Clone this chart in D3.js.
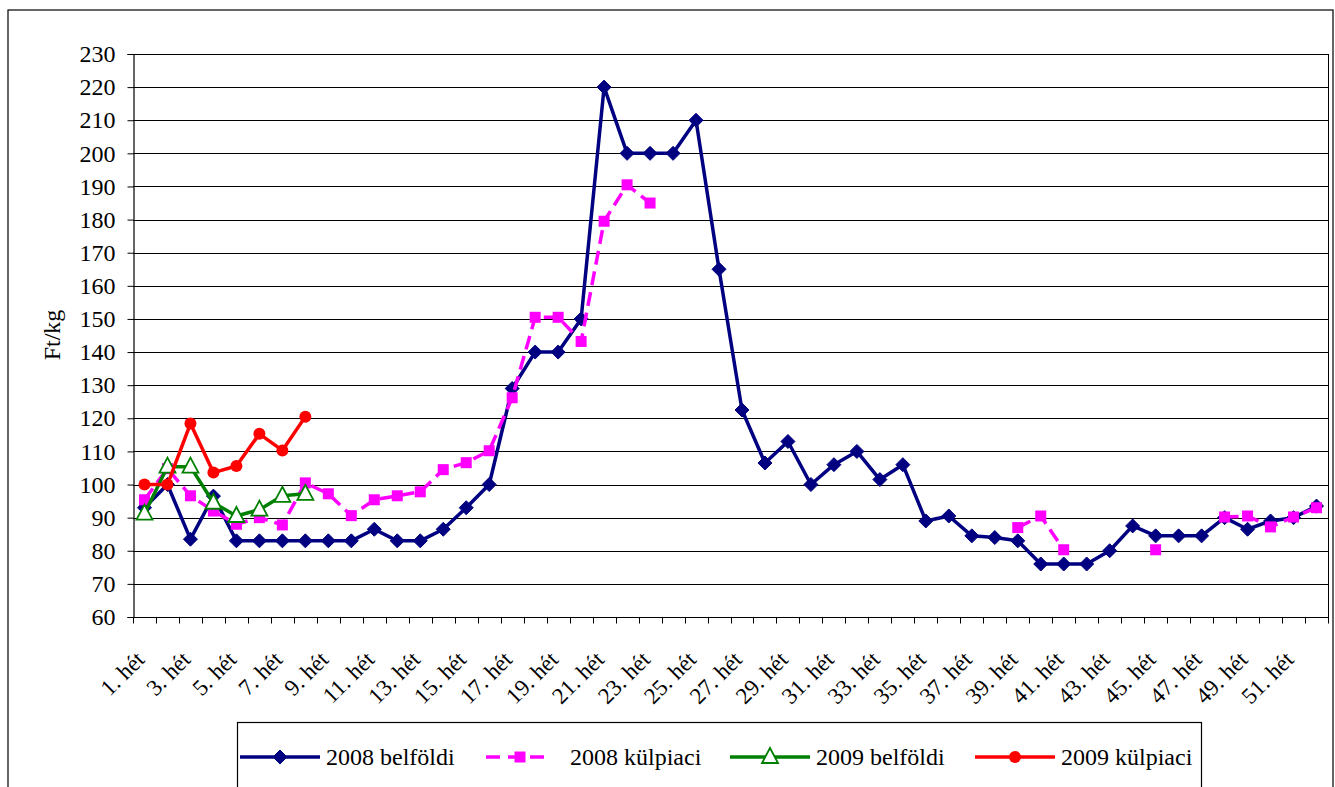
<!DOCTYPE html>
<html>
<head>
<meta charset="utf-8">
<script src="https://cdn.jsdelivr.net/npm/d3@7"></script>
<style>
  body { margin: 0; background: #fff; }
  svg { display: block; font-family: "Liberation Serif", "Times New Roman", serif; }
</style>
</head>
<body>
<svg id="svg0"></svg>
<script>
// ----- data -----
let weeks = d3.range(1, 53).map(i => i + ". hét");
let weekLabels = weeks.filter((d, i) => i % 2 === 0 && i < 51);
let yTicks = d3.range(60, 231, 10);

let belfoldi2008 = [93, 100, 83.5, 96.5, 83, 83, 83, 83, 83, 83,
    86.5, 83, 83, 86.5, 93, 100, 129, 140, 140, 150,
    220, 200, 200, 200, 210, 165, 122.5, 106.5, 113, 100,
    106, 110, 101.5, 106, 89, 90.5, 84.5, 84, 83, 76,
    76, 76, 80, 87.5, 84.5, 84.5, 84.5, 90, 86.5, 89,
    90, 93.5];
let kulpiaci2008 = [95.4, 104.8, 96.6, 92, 88, 90, 87.8, 100.5, 97.2, 90.6,
    95.4, 96.6, 97.8, 104.5, 106.6, 110.2, 126.2, 150.5, 150.5, 143.2,
    179.5, 190.5, 185, null, null, null, null, null, null, null,
    null, null, null, null, null, null, null, null, 87, 90.5,
    80.3, null, null, null, 80.3, null, null, 90.2, 90.5, 87.2,
    90.2, 93];
let belfoldi2009 = [91.2, 105.4, 105.4, 94.5, 90.5, 92.4, 96.6, 97.2];
let kulpiaci2009 = [100, 100, 118.4, 103.6, 105.6, 115.3, 110.3, 120.5];

let seriesNames = ["2008 belföldi", "2008 külpiaci", "2009 belföldi", "2009 külpiaci"];
let seriesColors = ["#000080", "#ff00ff", "#008000", "#ff0000"];

// ----- chart -----
let svgWidth = 1335;
let svgHeight = 787;
let plot = { left: 133, right: 1328, top: 54, bottom: 617 };

let svg = d3.select("#svg0")
    .attr("width", svgWidth)
    .attr("height", svgHeight);

// outer frame
svg.append("rect")
    .attr("x", 8).attr("y", 10)
    .attr("width", 1325).attr("height", 800)
    .attr("fill", "none").attr("stroke", "#000").attr("stroke-width", 1.2);

let x = d3.scaleBand()
    .domain(weeks)
    .range([plot.left, plot.right]);

let y = d3.scaleLinear()
    .domain([60, 230])
    .range([plot.bottom, plot.top]);

let cx = d => x(d) + x.bandwidth() / 2;

// gridlines
svg.append("g")
    .selectAll("line")
    .data(yTicks)
    .enter()
    .append("line")
    .attr("x1", plot.left).attr("x2", plot.right)
    .attr("y1", d => Math.round(y(d)) + 0.5)
    .attr("y2", d => Math.round(y(d)) + 0.5)
    .attr("stroke", "#000").attr("stroke-width", 1);

// right border of plot area
svg.append("line")
    .attr("x1", plot.right + 0.5).attr("x2", plot.right + 0.5)
    .attr("y1", plot.top).attr("y2", plot.bottom)
    .attr("stroke", "#000");

// y axis
let axisY = d3.axisLeft(y).tickValues(yTicks).tickSize(6).tickPadding(12);
let groupY = svg.append("g")
    .attr("transform", `translate(${plot.left + 0.5}, 0)`)
    .call(axisY);
groupY.select(".domain").attr("stroke", "#000").attr("stroke-width", 1.2);
groupY.selectAll(".tick line").attr("stroke", "#000");
groupY.selectAll("text")
    .attr("fill", "#000")
    .style("font-family", "Liberation Serif")
    .style("font-size", "24px");

// y title
svg.append("text")
    .attr("transform", "translate(60, 335) rotate(-90)")
    .attr("text-anchor", "middle")
    .style("font-size", "24px")
    .text("Ft/kg");

// x axis
let groupX = svg.append("g")
    .attr("transform", `translate(0, ${plot.bottom + 0.5})`);
groupX.append("line")
    .attr("x1", plot.left).attr("x2", plot.right + 1)
    .attr("stroke", "#000").attr("stroke-width", 1.2);
groupX.selectAll(".xt")
    .data(weeks.concat(["end"]))
    .enter()
    .append("line")
    .attr("class", "xt")
    .attr("x1", d => Math.round(d === "end" ? plot.right : x(d)) + 0.5)
    .attr("x2", d => Math.round(d === "end" ? plot.right : x(d)) + 0.5)
    .attr("y1", 0).attr("y2", 6)
    .attr("stroke", "#000");
groupX.selectAll(".xl")
    .data(weekLabels)
    .enter()
    .append("text")
    .attr("class", "xl")
    .attr("transform", d => `translate(${cx(d) - 10}, 32) rotate(-45)`)
    .attr("text-anchor", "end")
    .attr("dy", "0.7em")
    .style("font-size", "23px")
    .text(d => d);

// markers
function drawMarker(sel, type, color) {
    if (type === "diamond") {
        sel.append("path")
            .attr("d", "M0,-7 L7,0 L0,7 L-7,0 Z")
            .attr("fill", color).attr("stroke", color);
    } else if (type === "square") {
        sel.append("rect")
            .attr("x", -5.5).attr("y", -5.5)
            .attr("width", 11).attr("height", 11)
            .attr("fill", color);
    } else if (type === "triangle") {
        sel.append("path")
            .attr("d", "M0,-9 L8,6 L-8,6 Z")
            .attr("fill", "#fff").attr("stroke", color).attr("stroke-width", 1.8);
    } else {
        sel.append("circle")
            .attr("r", 6)
            .attr("fill", color);
    }
}

let seriesList = [
    { values: belfoldi2008, color: seriesColors[0], marker: "diamond", dash: null, width: 3.5 },
    { values: kulpiaci2008, color: seriesColors[1], marker: "square", dash: "14,7", width: 3.5 },
    { values: belfoldi2009, color: seriesColors[2], marker: "triangle", dash: null, width: 3.5 },
    { values: kulpiaci2009, color: seriesColors[3], marker: "circle", dash: null, width: 3.5 }
];

let line = d3.line()
    .defined(d => d.v !== null)
    .x(d => cx(d.w))
    .y(d => y(d.v));

seriesList.forEach(s => {
    let pts = s.values.map((v, i) => ({ w: weeks[i], v: v }));
    let g = svg.append("g");
    g.append("path")
        .datum(pts)
        .attr("d", line)
        .attr("fill", "none")
        .attr("stroke", s.color)
        .attr("stroke-width", s.width)
        .attr("stroke-linejoin", "round")
        .attr("stroke-dasharray", s.dash);
    let m = g.selectAll(".m")
        .data(pts.filter(d => d.v !== null))
        .enter()
        .append("g")
        .attr("transform", d => `translate(${cx(d.w)}, ${y(d.v)})`);
    drawMarker(m, s.marker, s.color);
});

// legend
let legend = svg.append("g");
legend.append("rect")
    .attr("x", 237.5).attr("y", 722.5)
    .attr("width", 964).attr("height", 80)
    .attr("fill", "#fff").attr("stroke", "#000").attr("stroke-width", 1.2);

let legendX = [240, 486, 730, 975];
seriesList.forEach((s, i) => {
    let lg = legend.append("g").attr("transform", `translate(${legendX[i]}, 757)`);
    lg.append("line")
        .attr("x1", 0).attr("x2", i === 1 ? 62 : 80)
        .attr("stroke", s.color)
        .attr("stroke-width", s.width)
        .attr("stroke-dasharray", i === 1 ? "14,8" : null);
    let mk = lg.append("g").attr("transform", `translate(${i === 1 ? 34 : 40}, 0)`);
    drawMarker(mk, s.marker, s.color);
    lg.append("text")
        .attr("x", i === 1 ? 84 : 86)
        .attr("dy", "0.35em")
        .style("font-size", "24px")
        .text(seriesNames[i]);
});
</script>
</body>
</html>
